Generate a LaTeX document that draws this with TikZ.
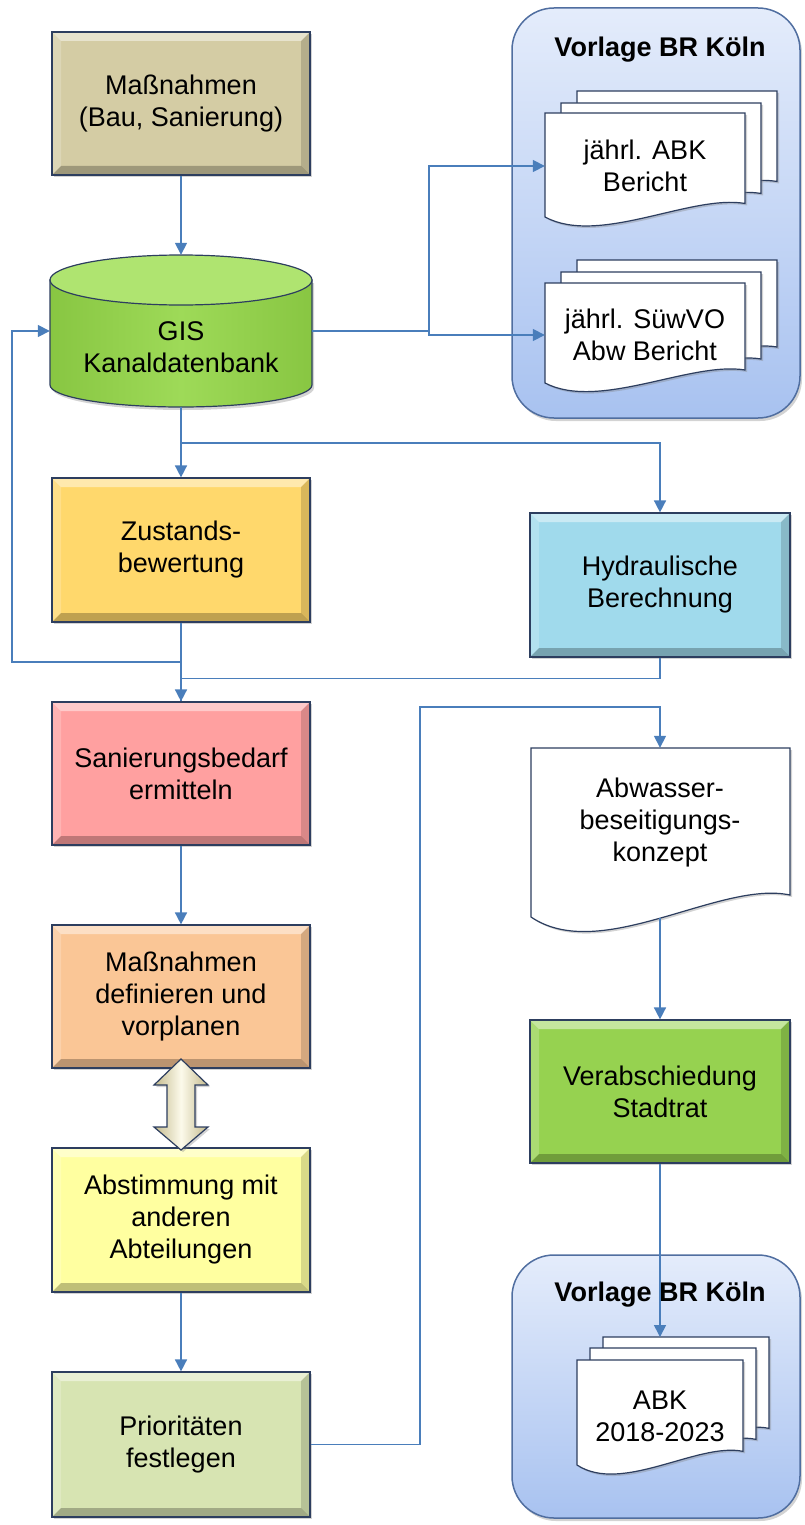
\documentclass[tikz,border=0pt]{standalone}
\usepackage{fontspec}
\setmainfont{Liberation Sans}
\usetikzlibrary{arrows.meta,positioning,shadows}
\definecolor{flowblue}{RGB}{74,126,187}
\definecolor{boxline}{RGB}{45,62,95}
\definecolor{massbaucol}{RGB}{212,204,164}
\definecolor{giscol}{RGB}{158,218,88}
\definecolor{gisdark}{RGB}{136,198,66}
\definecolor{gistop}{RGB}{175,228,112}
\definecolor{zustcol}{RGB}{255,216,108}
\definecolor{hydrcol}{RGB}{160,218,236}
\definecolor{sanbcol}{RGB}{255,160,160}
\definecolor{massdefcol}{RGB}{250,198,150}
\definecolor{abstcol}{RGB}{255,255,160}
\definecolor{priocol}{RGB}{215,228,178}
\definecolor{verabcol}{RGB}{150,210,80}
\definecolor{grouptop}{RGB}{228,236,251}
\definecolor{groupbot}{RGB}{168,194,240}
\definecolor{groupline}{RGB}{80,110,160}
\definecolor{arrowtan}{RGB}{196,186,140}
\definecolor{arrowcream}{RGB}{252,250,235}
\newcommand{\boxfont}{\fontsize{27}{32}\selectfont}
% sheet with wavy lower edge: left, top, width, height (y counted downwards)
\newcommand{\docsheet}[4]{%
  \filldraw[sheet] (#1,-#2) -- ({#1+#3},-#2) -- ({#1+#3},{-#2-0.87*#4})
    .. controls +({-0.27*#3},{0.09*#4}) and +({0.27*#3},{-0.28*#4}) .. (#1,{-#2-#4}) -- cycle;}
\tikzset{
  bevel/.style={path picture={
    \fill[white,opacity=.45] (path picture bounding box.north west) -- (path picture bounding box.north east)
      -- ([shift={(-9pt,-9pt)}]path picture bounding box.north east) -- ([shift={(9pt,-9pt)}]path picture bounding box.north west) -- cycle;
    \fill[white,opacity=.2] (path picture bounding box.north west) -- ([shift={(9pt,-9pt)}]path picture bounding box.north west)
      -- ([shift={(9pt,9pt)}]path picture bounding box.south west) -- (path picture bounding box.south west) -- cycle;
    \fill[black,opacity=.25] (path picture bounding box.south west) -- (path picture bounding box.south east)
      -- ([shift={(-9pt,9pt)}]path picture bounding box.south east) -- ([shift={(9pt,9pt)}]path picture bounding box.south west) -- cycle;
    \fill[black,opacity=.15] (path picture bounding box.north east) -- (path picture bounding box.south east)
      -- ([shift={(-9pt,9pt)}]path picture bounding box.south east) -- ([shift={(-9pt,-9pt)}]path picture bounding box.north east) -- cycle;
  }}
}

\begin{document}
\begin{tikzpicture}[x=1pt, y=1pt,
    box/.style={rectangle, draw=boxline, line width=1.2pt, fill=#1, bevel, minimum width=258pt, minimum height=144pt,
      align=center, font=\boxfont, drop shadow={shadow xshift=2pt, shadow yshift=-2pt, opacity=.35}},
    rbox/.style={box=#1, minimum width=260pt},
    doctext/.style={font=\boxfont, align=center, inner sep=0pt},
    sheet/.style={fill=white, draw=boxline, line width=1.2pt, drop shadow={shadow xshift=2pt, shadow yshift=-2pt, opacity=.35}},
    group/.style={rectangle, rounded corners=42pt, draw=groupline, line width=1.5pt, top color=grouptop, bottom color=groupbot,
      minimum width=288pt, drop shadow={shadow xshift=2pt, shadow yshift=-3pt, opacity=.35}},
    title/.style={font=\boxfont\bfseries},
    arr/.style={-{Triangle[length=12pt,width=12pt]}, line width=1.6pt, flowblue},
    line/.style={line width=1.6pt, flowblue},
    dblarrow/.style={draw=boxline, line width=1.2pt, left color=arrowtan, right color=arrowtan, middle color=arrowcream,
      drop shadow={shadow xshift=2pt, shadow yshift=-2pt, opacity=.35}}
  ]
  \useasboundingbox (0,0) rectangle (805,-1525);

  % Vorlage BR Koeln
  \node[group, minimum height=410pt] (grptop) at (656,-213) {};
  \node[group, minimum height=263pt] (grpbot) at (656,-1386.5) {};
  \node[title] (titletop) at (660,-50) {Vorlage BR Köln};
  \node[title] (titlebot) at (660,-1295) {Vorlage BR Köln};

  % left column
  \node[box=massbaucol, minimum height=143pt] (massbau) at (181,-103.5) {Maßnahmen\\(Bau, Sanierung)};
  \node[minimum width=262pt, minimum height=152pt, inner sep=0pt] (gis) at (181,-331) {};
  \path[left color=gisdark, right color=gisdark, middle color=giscol, draw=boxline, line width=1.2pt,
    drop shadow={shadow xshift=2pt, shadow yshift=-3pt, opacity=.35}]
    (50,-280) -- (50,-385) arc[start angle=180, end angle=360, x radius=131, y radius=22] -- (312,-280) -- cycle;
  \filldraw[fill=gistop, draw=boxline, line width=1.2pt] (181,-280) ellipse[x radius=131, y radius=25];
  \node[doctext] (gislabel) at (181,-347) {GIS\\Kanaldatenbank};
  \node[box=zustcol] (zust) at (181,-550) {Zustands-\\bewertung};
  \node[box=sanbcol, minimum height=143pt] (sanb) at (181,-773.5) {Sanierungsbedarf\\ermitteln};
  \node[box=massdefcol, minimum height=143pt] (massdef) at (181,-996.5) {Maßnahmen\\definieren und\\vorplanen};
  \node[box=abstcol] (abst) at (181,-1220) {Abstimmung mit\\anderen\\Abteilungen};
  \node[box=priocol, minimum height=145pt] (prio) at (181,-1444.5) {Prioritäten\\festlegen};
  \draw[dblarrow] (181,-1059) -- (208,-1085) -- (195,-1085) -- (195,-1127) -- (208,-1127) -- (181,-1150)
    -- (154,-1127) -- (167,-1127) -- (167,-1085) -- (154,-1085) -- cycle;

  % right column
  \node[rbox=hydrcol] (hydr) at (660,-585) {Hydraulische\\Berechnung};
  \node[rbox=verabcol, minimum height=143pt] (verab) at (660,-1091.5) {Verabschiedung\\Stadtrat};

  % documents
  \docsheet{577}{91}{200}{104}
  \docsheet{561}{103}{200}{104}
  \docsheet{545}{113}{200}{104}
  \node[doctext, minimum width=200pt, minimum height=90pt] (abk) at (645,-166) {jährl. ABK\\Bericht};
  \docsheet{577}{260}{200}{100}
  \docsheet{561}{272}{200}{100}
  \docsheet{545}{283}{200}{100}
  \node[doctext, minimum width=200pt, minimum height=80pt] (suew) at (645,-335) {jährl. SüwVO\\Abw Bericht};
  \docsheet{531}{748}{259}{169}
  \node[minimum width=259pt, minimum height=170pt, inner sep=0pt] (abw) at (660,-833) {};
  \node[doctext] (abwtext) at (660,-823) {Abwasser-\\beseitigungs-\\konzept};
  \docsheet{603}{1337}{166}{105}
  \docsheet{590}{1348}{166}{105}
  \docsheet{577}{1360}{166}{105}
  \node[doctext] (abkfin) at (660,-1416) {ABK\\2018-2023};

  \coordinate (fb) at (12,-662);
  \coordinate (priobend) at (420,-707);
  \coordinate (stackin) at (660,-1337);

  % connectors
  \draw[arr] (massbau) -- (gis);
  \draw[arr] (gis) -- (zust);
  \draw[arr] (gis.south) -- ++(0,-36) -| (hydr.north);
  \draw[arr] (gis.east) -- ++(117,0) |- (abk.west);
  \draw[arr] (gis.east) -- ++(117,0) |- (suew.west);
  \draw[arr] (zust.south) |- (fb) |- (gis.west);
  \draw[arr] (zust) -- (sanb);
  \draw[line] (hydr.south) -- ++(0,-21) -| (sanb.north);
  \draw[arr] (sanb) -- (massdef);
  \draw[arr] (abst) -- (prio);
  \draw[arr] (prio.east) -| (priobend) -| (abw.north);
  \draw[arr] (abw) -- (verab);
  \draw[arr] (verab) -- (stackin);
\end{tikzpicture}
\end{document}
